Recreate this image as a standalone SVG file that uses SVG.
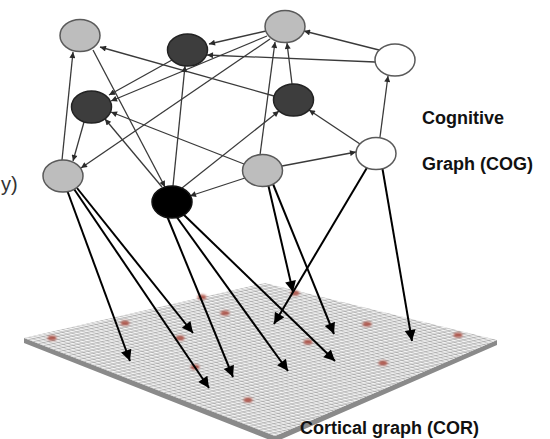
<svg xmlns="http://www.w3.org/2000/svg" width="550" height="439" viewBox="0 0 550 439">
<defs>
<style>
.e{stroke:#3a3a3a;stroke-width:1.3;fill:none;marker-end:url(#sa)}
.m{stroke:#000;stroke-width:2;fill:none;marker-end:url(#ba)}
.lg{fill:#bdbdbd;stroke:#5a5a5a;stroke-width:1.5}
.dk{fill:#3d3d3d;stroke:#222;stroke-width:1.5}
.bk{fill:#000;stroke:#111;stroke-width:1.5}
.wh{fill:#fff;stroke:#5a5a5a;stroke-width:1.5}
.lbl{font-family:"Liberation Sans",Arial,sans-serif;font-weight:bold;font-size:18px;fill:#111}
.dot{fill:#a8473b;opacity:0.85}
</style>
<marker id="sa" viewBox="0 0 10 10" refX="10" refY="5" markerWidth="8" markerHeight="6" markerUnits="userSpaceOnUse" orient="auto"><path d="M0,0 L10,5 L0,10 z" fill="#2a2a2a"/></marker>
<marker id="ba" viewBox="0 0 10 10" refX="10" refY="5" markerWidth="15" markerHeight="11" markerUnits="userSpaceOnUse" orient="auto"><path d="M0,0 L10,5 L0,10 z" fill="#000"/></marker>
<radialGradient id="bead" cx="0.45" cy="0.4" r="0.6"><stop offset="0" stop-color="#ffffff"/><stop offset="1" stop-color="#cccccc"/></radialGradient>
<pattern id="beads" patternUnits="userSpaceOnUse" width="10" height="10" patternTransform="matrix(0.482,-0.11,0.502,0.196,24,338)">
<rect width="10" height="10" fill="#ababab"/>
<circle cx="5" cy="5" r="4.8" fill="url(#bead)"/>
</pattern>
<filter id="blur" x="-50%" y="-50%" width="200%" height="200%"><feGaussianBlur stdDeviation="0.8"/></filter>
</defs>
<rect width="550" height="439" fill="#fff"/>

<g id="cortical-grid">
<polygon points="24,338 275,436 497,340 497,345 275,442 24,343" fill="#8a8a8a"/>
<polygon points="24,338 265,283 497,340 275,436" fill="url(#beads)"/>
<g filter="url(#blur)">
<ellipse class="dot" cx="52" cy="338" rx="4.5" ry="2.6"/>
<ellipse class="dot" cx="125" cy="323" rx="4.5" ry="2.6"/>
<ellipse class="dot" cx="180" cy="338" rx="4.5" ry="2.6"/>
<ellipse class="dot" cx="195" cy="367" rx="4.5" ry="2.6"/>
<ellipse class="dot" cx="202" cy="297" rx="4.5" ry="2.6"/>
<ellipse class="dot" cx="225" cy="313" rx="4.5" ry="2.6"/>
<ellipse class="dot" cx="248" cy="400" rx="4.5" ry="2.6"/>
<ellipse class="dot" cx="295" cy="293" rx="4.5" ry="2.6"/>
<ellipse class="dot" cx="308" cy="342" rx="4.5" ry="2.6"/>
<ellipse class="dot" cx="367" cy="324" rx="4.5" ry="2.6"/>
<ellipse class="dot" cx="383" cy="363" rx="4.5" ry="2.6"/>
<ellipse class="dot" cx="458" cy="335" rx="4.5" ry="2.6"/>
</g>
</g>

<g id="connectors">
<line class="e" x1="62" y1="160" x2="73" y2="52"/>
<line class="e" x1="93" y1="50" x2="165" y2="187"/>
<line class="e" x1="274" y1="96" x2="100" y2="47"/>
<line class="e" x1="266" y1="31" x2="209" y2="44"/>
<line class="e" x1="375" y1="62" x2="207" y2="55"/>
<line class="e" x1="172" y1="60" x2="109" y2="95"/>
<line class="e" x1="267" y1="36" x2="111" y2="101"/>
<line class="e" x1="270" y1="39" x2="81" y2="168"/>
<line class="e" x1="173" y1="186" x2="185" y2="66"/>
<line class="e" x1="84" y1="122" x2="73" y2="161"/>
<line class="e" x1="244" y1="164" x2="111" y2="112"/>
<line class="e" x1="162" y1="187" x2="105" y2="119"/>
<line class="e" x1="182" y1="188" x2="279" y2="111"/>
<line class="e" x1="245" y1="178" x2="190" y2="196"/>
<line class="e" x1="260" y1="155" x2="275" y2="42"/>
<line class="e" x1="292" y1="84" x2="287" y2="43"/>
<line class="e" x1="379" y1="50" x2="304" y2="31"/>
<line class="e" x1="360" y1="144" x2="309" y2="110"/>
<line class="e" x1="282" y1="166" x2="356" y2="152"/>
<line class="e" x1="380" y1="137" x2="388" y2="76"/>

<line class="m" x1="67" y1="190" x2="130" y2="361"/>
<line class="m" x1="77" y1="188" x2="193" y2="333"/>
<line class="m" x1="74" y1="189" x2="209" y2="388"/>
<line class="m" x1="167" y1="216" x2="233" y2="377"/>
<line class="m" x1="176" y1="216" x2="288" y2="371"/>
<line class="m" x1="183" y1="214" x2="335" y2="361"/>
<line class="m" x1="268" y1="184" x2="293" y2="292"/>
<line class="m" x1="273" y1="184" x2="334" y2="334"/>
<line class="m" x1="368" y1="166" x2="274" y2="324"/>
<line class="m" x1="382" y1="166" x2="412" y2="341"/>
</g>

<g id="node-a"><ellipse class="lg" cx="80" cy="35.5" rx="20" ry="16"/></g>
<g id="node-b"><ellipse class="dk" cx="187.5" cy="50" rx="20" ry="16"/></g>
<g id="node-c"><ellipse class="dk" cx="91.5" cy="107" rx="20" ry="16"/></g>
<g id="node-d"><ellipse class="lg" cx="63" cy="176" rx="20" ry="16"/></g>
<g id="node-e"><ellipse class="bk" cx="172" cy="202" rx="20" ry="16"/></g>
<g id="node-f"><ellipse class="lg" cx="262.5" cy="170.5" rx="20" ry="16"/></g>
<g id="node-g"><ellipse class="lg" cx="285" cy="26.5" rx="20" ry="16"/></g>
<g id="node-h"><ellipse class="wh" cx="395" cy="60" rx="20" ry="16"/></g>
<g id="node-i"><ellipse class="dk" cx="293.5" cy="100" rx="20" ry="16"/></g>
<g id="node-j"><ellipse class="wh" cx="376" cy="153.5" rx="20" ry="16"/></g>

<g id="labels">
<text class="lbl" x="422" y="124">Cognitive</text>
<text class="lbl" x="422" y="170">Graph (COG)</text>
<text class="lbl" x="300" y="434">Cortical graph (COR)</text>
<text x="1" y="191" font-family="'Liberation Sans',Arial,sans-serif" font-size="20" fill="#333">y)</text>
</g>
</svg>
